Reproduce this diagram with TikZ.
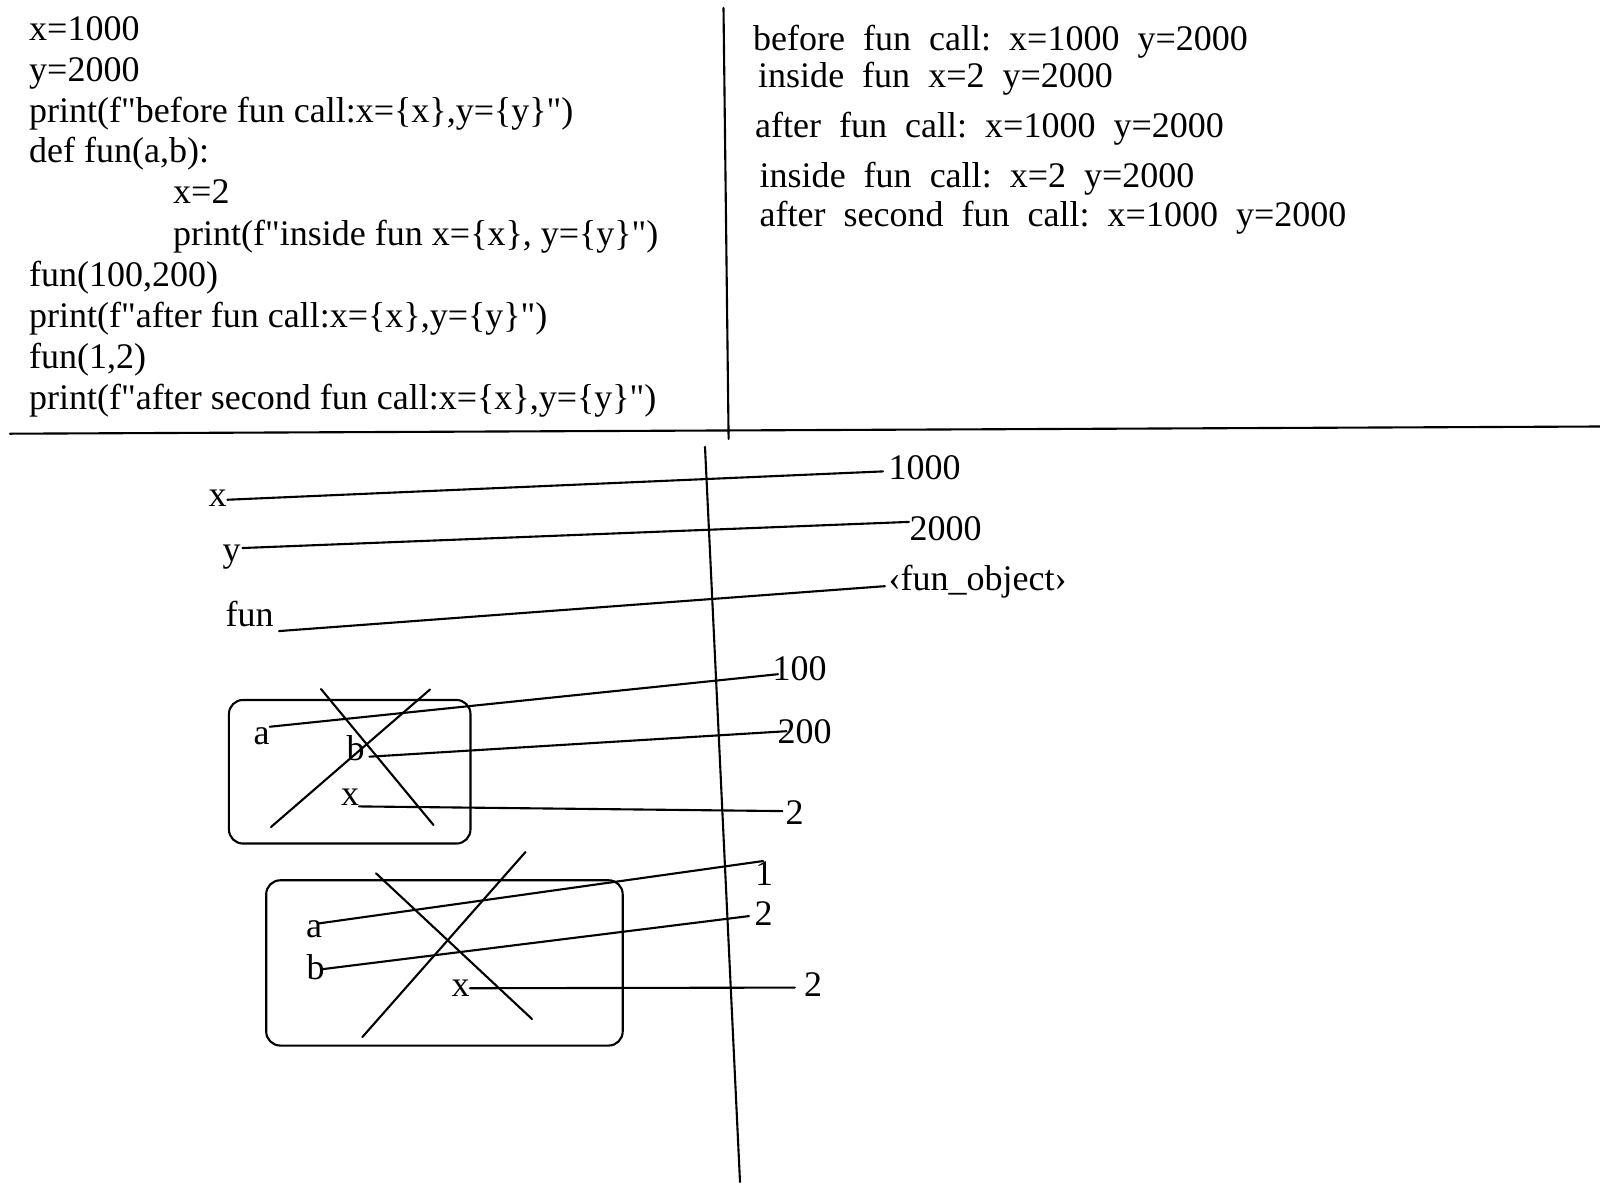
\documentclass[tikz,border=0pt]{standalone}
\usepackage{fontspec}
\setmainfont{Liberation Serif}[Ligatures=TeXOff]
\usetikzlibrary{calc}
\newcommand{\diagfont}{\fontsize{10.24pt}{12pt}\selectfont}
\begin{document}
\begin{tikzpicture}[x=0.01cm,y=-0.01cm,
  txt/.style={inner sep=0pt, anchor=base west, font=\diagfont},
  ln/.style={line width=0.6pt, line cap=round},
  frame/.style={draw, line width=0.6pt, rounded corners=4pt, inner sep=0pt},
]
\useasboundingbox (0,0) rectangle (1600,1200);
\fill[white] (0,0) rectangle (1600,1200);

% dividers
\draw[ln] (10,433.7) -- (1600,426.5);
\draw[ln] (723.5,8) -- (728.6,439);
\draw[ln] (705,447) -- (740,1182);

% code
\node[txt] (c1) at (28.5,40.5) {x=1000};
\node[txt] (c2) at (28.5,81.3) {y=2000};
\node[txt] (c3) at (28.5,122.1) {print(f"before fun call:x=\{x\},y=\{y\}")};
\node[txt] (c4) at (28.5,162.9) {def fun(a,b):};
\node[txt] (c5) at (172.5,203.9) {x=2};
\node[txt] (c6) at (172.5,245) {print(f"inside fun x=\{x\}, y=\{y\}")};
\node[txt] (c7) at (28.5,286) {fun(100,200)};
\node[txt] (c8) at (28.5,327) {print(f"after fun call:x=\{x\},y=\{y\}")};
\node[txt] (c9) at (28.5,368) {fun(1,2)};
\node[txt] (c10) at (28.5,409) {print(f"after second fun call:x=\{x\},y=\{y\}")};

% output
\node[txt] (o1) at (752.5,51) {before~~fun~~call:~~x=1000~~y=2000};
\node[txt] (o2) at (757.5,87.5) {inside~~fun~~x=2~~y=2000};
\node[txt] (o3) at (754.5,137) {after~~fun~~call:~~x=1000~~y=2000};
\node[txt] (o4) at (759,187) {inside~~fun~~call:~~x=2~~y=2000};
\node[txt] (o5) at (759,226.5) {after~~second~~fun~~call:~~x=1000~~y=2000};

% globals
\node[txt] (xl) at (208,506) {x};
\node[txt] (v1000) at (888,479.7) {1000};
\node[txt] (yl) at (222,561) {y};
\node[txt] (v2000) at (909,540.7) {2000};
\node[txt] (funl) at (225,626.7) {fun};
\node[txt] (vfun) at (888,590) {‹fun\_object›};
\draw[ln] ($(xl.east)+(0,2)$) -- ($(v1000.west)+(-5,3.5)$);
\draw[ln] ($(yl.east)+(1,-8.6)$) -- ($(v2000.west)+(0,-7)$);
\draw[ln] ($(funl.south east)+(4.6,3.3)$) -- ($(vfun.west)+(-3,5)$);

% first call frame
\node[frame, minimum width=2.414cm, minimum height=1.435cm] (box1) at (349.7,771.75) {};
\draw[ln] (321,689) -- (433.5,825);
\draw[ln] (430,689.5) -- (271,827);
\node[txt] (a1) at (253,744) {a};
\node[txt] (b1) at (346,760) {b};
\node[txt] (x1) at (340.5,805) {x};
\node[txt] (v100) at (772,680) {100};
\node[txt] (v200) at (777,743) {200};
\node[txt] (v2a) at (785,824) {2};
\draw[ln] ($(a1.east)+(-0.6,-9)$) -- ($(v100.west)+(6,6)$);
\draw[ln] ($(b1.east)+(4,9)$) -- ($(v200.west)+(9.5,0)$);
\draw[ln] ($(x1.south east)+(-1,0.7)$) -- ($(v2a.west)+(-2.6,-1)$);

% second call frame
\node[frame, minimum width=3.563cm, minimum height=1.652cm] (box2) at (444.45,962.9) {};
\draw[ln] (376,873.3) -- (532,1019);
\draw[ln] (525.5,852) -- (362.4,1037);
\node[txt] (a2) at (305.5,937.5) {a};
\node[txt] (b2) at (306,979) {b};
\node[txt] (x2) at (451,996) {x};
\node[txt] (v1) at (754.5,885) {1};
\node[txt] (v2b) at (754,925) {2};
\node[txt] (v2c) at (803.5,996.7) {2};
\draw[ln] ($(a2.east)+(-3.5,-5.9)$) -- ($(v1.north)+(-1,0.5)$);
\draw[ln] ($(b2.east)+(-4,2.6)$) -- ($(v2b.west)+(-5,3)$);
\draw[ln] ($(x2.east)+(-0.6,0.5)$) -- ($(v2c.west)+(-8.7,2.8)$);
\end{tikzpicture}
\end{document}
